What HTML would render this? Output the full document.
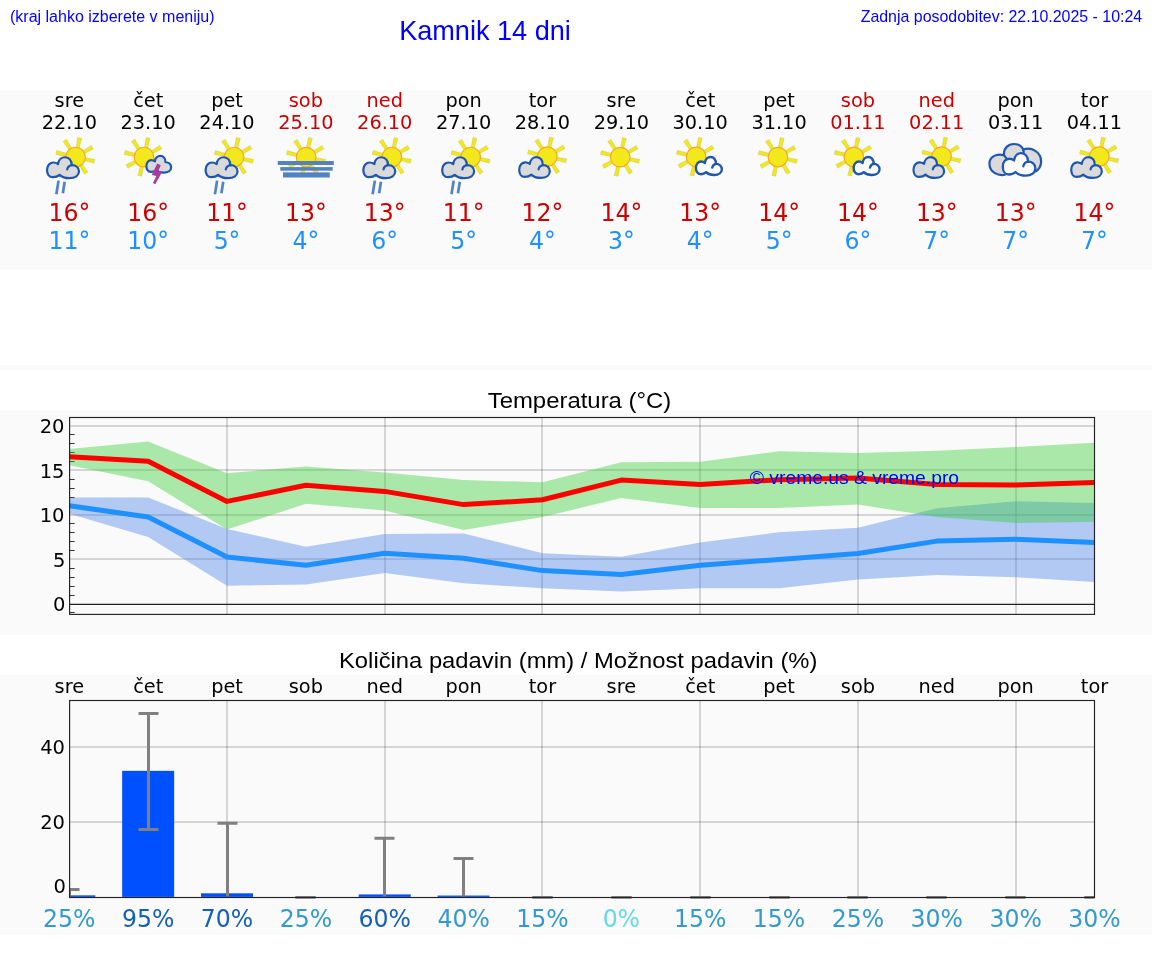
<!DOCTYPE html>
<html lang="sl"><head><meta charset="utf-8"><title>Kamnik 14 dni</title>
<style>html,body{margin:0;padding:0;background:#fff}svg{display:block}.dj{font-family:"DejaVu Sans","Liberation Sans",sans-serif}.ar{font-family:"Liberation Sans",Arial,sans-serif}.m{text-anchor:middle}.e{text-anchor:end}</style></head><body>
<svg width="1152" height="975" viewBox="0 0 1152 975">
<rect x="0" y="90" width="1152" height="180" fill="#fafafa"/>
<rect x="0" y="365" width="1152" height="5" fill="#fafafa"/>
<rect x="0" y="410" width="1152" height="225" fill="#fafafa"/>
<rect x="0" y="675" width="1152" height="260" fill="#fafafa"/>
<g class="ar" fill="#0000ff">
<text x="10" y="22" font-size="16">(kraj lahko izberete v meniju)</text>
<text x="485" y="39.6" font-size="27.1" class="m">Kamnik 14 dni</text>
<text x="1142.2" y="22" font-size="15.93" class="e">Zadnja posodobitev: 22.10.2025 - 10:24</text>
</g>
<defs>
<g id="sun"><g fill="#f2e81c" stroke="#8c8a40" stroke-opacity="0.35" stroke-width="0.5"><polygon points="8,-1.5 19.4,-2.05 19.4,2.05 8,1.5" transform="rotate(12.6)"/><polygon points="8,-1.5 19.3,-2.05 19.3,2.05 8,1.5" transform="rotate(56.6)"/><polygon points="8,-1.5 19.2,-2.05 19.2,2.05 8,1.5" transform="rotate(102.4)"/><polygon points="8,-1.5 19.5,-2.05 19.5,2.05 8,1.5" transform="rotate(150.8)"/><polygon points="8,-1.5 19.8,-2.05 19.8,2.05 8,1.5" transform="rotate(193.3)"/><polygon points="8,-1.5 19.8,-2.05 19.8,2.05 8,1.5" transform="rotate(237)"/><polygon points="8,-1.5 19.5,-2.05 19.5,2.05 8,1.5" transform="rotate(282.4)"/><polygon points="8,-1.5 19.5,-2.05 19.5,2.05 8,1.5" transform="rotate(329.5)"/></g><circle r="9.8" fill="#f2e81c" stroke="#f6aa22" stroke-width="1.2"/></g>
<path id="cl" d="M6.5 20.8 C3 20.8 1 17.5 1 13.5 C1 9 4 6.2 7 6.2 C8.8 6.2 10.3 6.8 11.6 7.8 C12 3.5 15 1 18.3 1 C22 1 24.8 4 24.6 8.9 C28.5 8.6 31.6 11.5 31.6 15 C31.6 19 28 21.8 22.5 21.8 C18.5 21.8 15 20.5 13 18.5 C11.5 20 9 20.8 6.5 20.8 Z"/>
<path id="clh" d="M20.3 13.2 C20.8 10.6 23 9 25.3 8.9" fill="none"/>
</defs>
<g class="dj m" font-size="20"><text transform="translate(69.30 107) scale(0.966 1)" fill="#000">sre</text><text transform="translate(69.30 129.3) scale(0.966 1)" fill="#000">22.10</text></g>
<use href="#sun" x="75.55" y="157.05"/><g transform="translate(45.95 156.20) scale(1.0460122699386503 1.0087719298245614)" stroke="#1f57b0" stroke-width="2.14" stroke-linejoin="round" stroke-linecap="round"><use href="#cl" fill="#dadada"/><use href="#clh"/></g><g stroke="#3f74c2" stroke-opacity="0.9" stroke-width="2.7"><line x1="58.55" y1="180.6" x2="56.35" y2="194.2"/><line x1="64.65" y1="181.7" x2="62.85" y2="193.2"/></g>
<g class="dj m" font-size="25"><text transform="translate(69.30 220.8) scale(0.943 1)" fill="#cc0000">16°</text><text transform="translate(69.30 249) scale(0.943 1)" fill="#1e90ff">11°</text></g>
<g class="dj m" font-size="20"><text transform="translate(148.16 107) scale(0.966 1)" fill="#000">čet</text><text transform="translate(148.16 129.3) scale(0.966 1)" fill="#000">23.10</text></g>
<use href="#sun" x="143.96" y="157.05"/><g transform="translate(145.56 155.10) scale(0.8098159509202453 0.8026315789473685)" stroke="#1f57b0" stroke-width="2.73" stroke-linejoin="round" stroke-linecap="round"><use href="#cl" fill="#dadada"/></g><polygon fill="#a93a9e" points="157.21,163.6 160.81,165.2 158.26,171.1 162.36,171.5 155.21,184.2 152.91,183 156.36,175.9 151.86,174.9"/>
<g class="dj m" font-size="25"><text transform="translate(148.16 220.8) scale(0.943 1)" fill="#cc0000">16°</text><text transform="translate(148.16 249) scale(0.943 1)" fill="#1e90ff">10°</text></g>
<g class="dj m" font-size="20"><text transform="translate(227.02 107) scale(0.966 1)" fill="#000">pet</text><text transform="translate(227.02 129.3) scale(0.966 1)" fill="#000">24.10</text></g>
<use href="#sun" x="234.12" y="157.05"/><g transform="translate(204.52 156.20) scale(1.0460122699386503 1.0087719298245614)" stroke="#1f57b0" stroke-width="2.14" stroke-linejoin="round" stroke-linecap="round"><use href="#cl" fill="#dadada"/><use href="#clh"/></g><g stroke="#3f74c2" stroke-opacity="0.9" stroke-width="2.7"><line x1="217.12" y1="180.6" x2="214.92" y2="194.2"/><line x1="223.22" y1="181.7" x2="221.42" y2="193.2"/></g>
<g class="dj m" font-size="25"><text transform="translate(227.02 220.8) scale(0.943 1)" fill="#cc0000">11°</text><text transform="translate(227.02 249) scale(0.943 1)" fill="#1e90ff">5°</text></g>
<g class="dj m" font-size="20"><text transform="translate(305.88 107) scale(0.966 1)" fill="#cc0000">sob</text><text transform="translate(305.88 129.3) scale(0.966 1)" fill="#cc0000">25.10</text></g>
<use href="#sun" x="306.13" y="157.1"/><g fill="#5382c3"><rect x="277.78" y="161" width="56" height="4"/><rect x="280.28" y="167.1" width="52.4" height="3.6"/><rect x="282.98" y="172.35" width="46.8" height="5.15"/></g>
<g class="dj m" font-size="25"><text transform="translate(305.88 220.8) scale(0.943 1)" fill="#cc0000">13°</text><text transform="translate(305.88 249) scale(0.943 1)" fill="#1e90ff">4°</text></g>
<g class="dj m" font-size="20"><text transform="translate(384.74 107) scale(0.966 1)" fill="#cc0000">ned</text><text transform="translate(384.74 129.3) scale(0.966 1)" fill="#cc0000">26.10</text></g>
<use href="#sun" x="391.84" y="157.05"/><g transform="translate(362.24 156.20) scale(1.0460122699386503 1.0087719298245614)" stroke="#1f57b0" stroke-width="2.14" stroke-linejoin="round" stroke-linecap="round"><use href="#cl" fill="#dadada"/><use href="#clh"/></g><g stroke="#3f74c2" stroke-opacity="0.9" stroke-width="2.7"><line x1="374.84" y1="180.6" x2="372.64" y2="194.2"/><line x1="380.94" y1="181.7" x2="379.14" y2="193.2"/></g>
<g class="dj m" font-size="25"><text transform="translate(384.74 220.8) scale(0.943 1)" fill="#cc0000">13°</text><text transform="translate(384.74 249) scale(0.943 1)" fill="#1e90ff">6°</text></g>
<g class="dj m" font-size="20"><text transform="translate(463.60 107) scale(0.966 1)" fill="#000">pon</text><text transform="translate(463.60 129.3) scale(0.966 1)" fill="#000">27.10</text></g>
<use href="#sun" x="470.70" y="157.05"/><g transform="translate(441.10 156.20) scale(1.0460122699386503 1.0087719298245614)" stroke="#1f57b0" stroke-width="2.14" stroke-linejoin="round" stroke-linecap="round"><use href="#cl" fill="#dadada"/><use href="#clh"/></g><g stroke="#3f74c2" stroke-opacity="0.9" stroke-width="2.7"><line x1="453.70" y1="180.6" x2="451.50" y2="194.2"/><line x1="459.80" y1="181.7" x2="458.00" y2="193.2"/></g>
<g class="dj m" font-size="25"><text transform="translate(463.60 220.8) scale(0.943 1)" fill="#cc0000">11°</text><text transform="translate(463.60 249) scale(0.943 1)" fill="#1e90ff">5°</text></g>
<g class="dj m" font-size="20"><text transform="translate(542.46 107) scale(0.966 1)" fill="#000">tor</text><text transform="translate(542.46 129.3) scale(0.966 1)" fill="#000">28.10</text></g>
<use href="#sun" x="547.26" y="156.6"/><g transform="translate(518.21 156.15) scale(1 1)" stroke="#1f57b0" stroke-width="2.20" stroke-linejoin="round" stroke-linecap="round"><use href="#cl" fill="#dadada"/><use href="#clh"/></g>
<g class="dj m" font-size="25"><text transform="translate(542.46 220.8) scale(0.943 1)" fill="#cc0000">12°</text><text transform="translate(542.46 249) scale(0.943 1)" fill="#1e90ff">4°</text></g>
<g class="dj m" font-size="20"><text transform="translate(621.32 107) scale(0.966 1)" fill="#000">sre</text><text transform="translate(621.32 129.3) scale(0.966 1)" fill="#000">29.10</text></g>
<use href="#sun" x="620.22" y="157.1"/>
<g class="dj m" font-size="25"><text transform="translate(621.32 220.8) scale(0.943 1)" fill="#cc0000">14°</text><text transform="translate(621.32 249) scale(0.943 1)" fill="#1e90ff">3°</text></g>
<g class="dj m" font-size="20"><text transform="translate(700.18 107) scale(0.966 1)" fill="#000">čet</text><text transform="translate(700.18 129.3) scale(0.966 1)" fill="#000">30.10</text></g>
<use href="#sun" x="696.13" y="156.9"/><g transform="translate(695.08 156.20) scale(0.8466257668711656 0.8640350877192982)" stroke="#1f57b0" stroke-width="2.81" stroke-linejoin="round" stroke-linecap="round"><use href="#cl" fill="#fcfcfc"/><use href="#clh"/></g>
<g class="dj m" font-size="25"><text transform="translate(700.18 220.8) scale(0.943 1)" fill="#cc0000">13°</text><text transform="translate(700.18 249) scale(0.943 1)" fill="#1e90ff">4°</text></g>
<g class="dj m" font-size="20"><text transform="translate(779.04 107) scale(0.966 1)" fill="#000">pet</text><text transform="translate(779.04 129.3) scale(0.966 1)" fill="#000">31.10</text></g>
<use href="#sun" x="777.94" y="157.1"/>
<g class="dj m" font-size="25"><text transform="translate(779.04 220.8) scale(0.943 1)" fill="#cc0000">14°</text><text transform="translate(779.04 249) scale(0.943 1)" fill="#1e90ff">5°</text></g>
<g class="dj m" font-size="20"><text transform="translate(857.90 107) scale(0.966 1)" fill="#cc0000">sob</text><text transform="translate(857.90 129.3) scale(0.966 1)" fill="#cc0000">01.11</text></g>
<use href="#sun" x="853.85" y="156.9"/><g transform="translate(852.80 156.20) scale(0.8466257668711656 0.8640350877192982)" stroke="#1f57b0" stroke-width="2.81" stroke-linejoin="round" stroke-linecap="round"><use href="#cl" fill="#fcfcfc"/><use href="#clh"/></g>
<g class="dj m" font-size="25"><text transform="translate(857.90 220.8) scale(0.943 1)" fill="#cc0000">14°</text><text transform="translate(857.90 249) scale(0.943 1)" fill="#1e90ff">6°</text></g>
<g class="dj m" font-size="20"><text transform="translate(936.76 107) scale(0.966 1)" fill="#cc0000">ned</text><text transform="translate(936.76 129.3) scale(0.966 1)" fill="#cc0000">02.11</text></g>
<use href="#sun" x="941.56" y="156.6"/><g transform="translate(912.51 156.15) scale(1 1)" stroke="#1f57b0" stroke-width="2.20" stroke-linejoin="round" stroke-linecap="round"><use href="#cl" fill="#dadada"/><use href="#clh"/></g>
<g class="dj m" font-size="25"><text transform="translate(936.76 220.8) scale(0.943 1)" fill="#cc0000">13°</text><text transform="translate(936.76 249) scale(0.943 1)" fill="#1e90ff">7°</text></g>
<g class="dj m" font-size="20"><text transform="translate(1015.62 107) scale(0.966 1)" fill="#000">pon</text><text transform="translate(1015.62 129.3) scale(0.966 1)" fill="#000">03.11</text></g>
<path transform="translate(1015.62 0)" fill="#dadada" stroke="#1f57b0" stroke-width="2.2" stroke-linejoin="round" d="M-10 174.5 C-17 176.5 -26.2 172.5 -26.2 163.5 C-26.2 157 -19.5 153.2 -11.6 155.2 C-12.3 148 -7 144 -1.8 144 C3 144 6.3 146.5 7.6 149.6 C16 146.5 25.5 152 25.5 161.5 C25.5 166 23.5 169.5 19.5 171.8"/><path transform="translate(1015.62 0)" fill="none" stroke="#1f57b0" stroke-width="2.2" stroke-linecap="round" d="M-11.6 155.2 C-10.8 156.5 -10 157.5 -9 158.5 M7.6 149.6 C7.9 150.5 8 151.5 8 152.5"/><g transform="translate(1001.72 152.00) scale(1.0644171779141105 1.0833333333333333)" stroke="#1f57b0" stroke-width="2.14" stroke-linejoin="round" stroke-linecap="round"><use href="#cl" fill="#fcfcfc"/><use href="#clh"/></g>
<g class="dj m" font-size="25"><text transform="translate(1015.62 220.8) scale(0.943 1)" fill="#cc0000">13°</text><text transform="translate(1015.62 249) scale(0.943 1)" fill="#1e90ff">7°</text></g>
<g class="dj m" font-size="20"><text transform="translate(1094.48 107) scale(0.966 1)" fill="#000">tor</text><text transform="translate(1094.48 129.3) scale(0.966 1)" fill="#000">04.11</text></g>
<use href="#sun" x="1099.28" y="156.6"/><g transform="translate(1070.23 156.15) scale(1 1)" stroke="#1f57b0" stroke-width="2.20" stroke-linejoin="round" stroke-linecap="round"><use href="#cl" fill="#dadada"/><use href="#clh"/></g>
<g class="dj m" font-size="25"><text transform="translate(1094.48 220.8) scale(0.943 1)" fill="#cc0000">14°</text><text transform="translate(1094.48 249) scale(0.943 1)" fill="#1e90ff">7°</text></g>
<text class="ar m" transform="translate(579.5 407.5) scale(1.068 1)" font-size="22.4" fill="#000">Temperatura (°C)</text>
<clipPath id="c1"><rect x="69.6" y="417.5" width="1024.9" height="196.89999999999998"/></clipPath>
<g stroke="#000" stroke-opacity="0.145" stroke-width="2"><line x1="69.6" x2="1094.5" y1="426" y2="426"/><line x1="69.6" x2="1094.5" y1="470" y2="470"/><line x1="69.6" x2="1094.5" y1="515" y2="515"/><line x1="69.6" x2="1094.5" y1="559" y2="559"/><line x1="227" x2="227" y1="417.5" y2="614.4"/><line x1="385" x2="385" y1="417.5" y2="614.4"/><line x1="542" x2="542" y1="417.5" y2="614.4"/><line x1="700" x2="700" y1="417.5" y2="614.4"/><line x1="858" x2="858" y1="417.5" y2="614.4"/><line x1="1016" x2="1016" y1="417.5" y2="614.4"/></g>
<g stroke="#333" stroke-width="1"><line x1="69.6" x2="74.6" y1="612.5" y2="612.5"/><line x1="69.6" x2="74.6" y1="595.5" y2="595.5"/><line x1="69.6" x2="74.6" y1="586.5" y2="586.5"/><line x1="69.6" x2="74.6" y1="577.5" y2="577.5"/><line x1="69.6" x2="74.6" y1="568.5" y2="568.5"/><line x1="69.6" x2="74.6" y1="550.5" y2="550.5"/><line x1="69.6" x2="74.6" y1="541.5" y2="541.5"/><line x1="69.6" x2="74.6" y1="532.5" y2="532.5"/><line x1="69.6" x2="74.6" y1="523.5" y2="523.5"/><line x1="69.6" x2="74.6" y1="505.5" y2="505.5"/><line x1="69.6" x2="74.6" y1="497.5" y2="497.5"/><line x1="69.6" x2="74.6" y1="488.5" y2="488.5"/><line x1="69.6" x2="74.6" y1="479.5" y2="479.5"/><line x1="69.6" x2="74.6" y1="461.5" y2="461.5"/><line x1="69.6" x2="74.6" y1="452.5" y2="452.5"/><line x1="69.6" x2="74.6" y1="443.5" y2="443.5"/><line x1="69.6" x2="74.6" y1="434.5" y2="434.5"/></g>
<g clip-path="url(#c1)">
<polygon points="69.3,497.5 148.2,497.5 227.0,528.9 305.9,546.7 384.7,533.9 463.6,533.5 542.5,553.2 621.3,556.7 700.2,542.4 779.0,532.2 857.9,527.8 936.8,508.3 1015.6,501.3 1094.5,502.9 1094.5,582.1 1015.6,577.2 936.8,574.9 857.9,579.5 779.0,588.2 700.2,588.2 621.3,591.4 542.5,588.2 463.6,583.2 384.7,573.0 305.9,584.5 227.0,585.8 148.2,537.0 69.3,513.7" fill="#4480e8" fill-opacity="0.4"/>
<polygon points="69.3,449.1 148.2,441.5 227.0,473.2 305.9,466.4 384.7,472.5 463.6,480.1 542.5,482.3 621.3,462.3 700.2,461.7 779.0,451.2 857.9,453.0 936.8,450.8 1015.6,447.1 1094.5,442.8 1094.5,521.8 1015.6,522.9 936.8,517.0 857.9,504.4 779.0,507.9 700.2,507.9 621.3,498.1 542.5,517.0 463.6,530.0 384.7,510.5 305.9,503.8 227.0,529.6 148.2,481.2 69.3,465.3" fill="#32cd32" fill-opacity="0.4"/>
<polyline points="69.3,456.7 148.2,461.2 227.0,501.4 305.9,485.3 384.7,491.4 463.6,504.6 542.5,499.8 621.3,480.1 700.2,484.4 779.0,479.7 857.9,477.9 936.8,484.4 1015.6,485.1 1094.5,482.5" fill="none" stroke="#ff0000" stroke-width="5" stroke-linejoin="round"/>
<polyline points="69.3,505.7 148.2,517.0 227.0,557.1 305.9,565.2 384.7,553.2 463.6,558.2 542.5,570.6 621.3,574.5 700.2,565.2 779.0,559.5 857.9,553.5 936.8,541.1 1015.6,539.2 1094.5,542.6" fill="none" stroke="#1e90ff" stroke-width="5" stroke-linejoin="round"/>
</g>
<line x1="69.6" x2="1094.5" y1="604.4" y2="604.4" stroke="#222" stroke-width="1.3"/>
<rect x="69.6" y="417.5" width="1024.9" height="196.89999999999998" fill="none" stroke="#222" stroke-width="1.15"/>
<g class="dj e" font-size="19.5" fill="#000"><text x="65.5" y="611.3">0</text><text x="65.5" y="566.8">5</text><text x="64.5" y="522">10</text><text x="64.5" y="478.1">15</text><text x="64.5" y="433">20</text></g>
<text class="ar" transform="translate(749.8 483.8) scale(1.058 1)" font-size="18.25" fill="#0000ff">© vreme.us &amp; vreme.pro</text>
<text class="ar m" transform="translate(578.2 667.5) scale(1.062 1)" font-size="22.4" fill="#000">Količina padavin (mm) / Možnost padavin (%)</text>
<g class="dj m" font-size="20" fill="#000"><text transform="translate(69.30 692.6) scale(0.966 1)" fill="#000">sre</text><text transform="translate(148.16 692.6) scale(0.966 1)" fill="#000">čet</text><text transform="translate(227.02 692.6) scale(0.966 1)" fill="#000">pet</text><text transform="translate(305.88 692.6) scale(0.966 1)" fill="#000">sob</text><text transform="translate(384.74 692.6) scale(0.966 1)" fill="#000">ned</text><text transform="translate(463.60 692.6) scale(0.966 1)" fill="#000">pon</text><text transform="translate(542.46 692.6) scale(0.966 1)" fill="#000">tor</text><text transform="translate(621.32 692.6) scale(0.966 1)" fill="#000">sre</text><text transform="translate(700.18 692.6) scale(0.966 1)" fill="#000">čet</text><text transform="translate(779.04 692.6) scale(0.966 1)" fill="#000">pet</text><text transform="translate(857.90 692.6) scale(0.966 1)" fill="#000">sob</text><text transform="translate(936.76 692.6) scale(0.966 1)" fill="#000">ned</text><text transform="translate(1015.62 692.6) scale(0.966 1)" fill="#000">pon</text><text transform="translate(1094.48 692.6) scale(0.966 1)" fill="#000">tor</text></g>
<g stroke="#000" stroke-opacity="0.145" stroke-width="2"><line x1="69.6" x2="1094.5" y1="747" y2="747"/><line x1="69.6" x2="1094.5" y1="822" y2="822"/><line x1="227" x2="227" y1="700.5" y2="897.5"/><line x1="385" x2="385" y1="700.5" y2="897.5"/><line x1="542" x2="542" y1="700.5" y2="897.5"/><line x1="700" x2="700" y1="700.5" y2="897.5"/><line x1="858" x2="858" y1="700.5" y2="897.5"/><line x1="1016" x2="1016" y1="700.5" y2="897.5"/></g>
<clipPath id="c2"><rect x="69.6" y="698.5" width="1024.9" height="200.0"/></clipPath>
<g clip-path="url(#c2)">
<rect x="43.30" y="895.36" width="52" height="1.54" fill="#0050ff"/>
<rect x="122.16" y="770.84" width="52" height="126.06" fill="#0050ff"/>
<rect x="201.02" y="893.30" width="52" height="3.60" fill="#0050ff"/>
<rect x="358.74" y="894.43" width="52" height="2.47" fill="#0050ff"/>
<rect x="437.60" y="895.55" width="52" height="1.35" fill="#0050ff"/>
<g stroke="#808080" stroke-width="3"><line x1="69.50" x2="69.50" y1="896.60" y2="889.48"/><line x1="59.50" x2="79.50" y1="889.48" y2="889.48"/></g>
<g stroke="#808080" stroke-width="3"><line x1="148.50" x2="148.50" y1="829.56" y2="713.47"/><line x1="138.50" x2="158.50" y1="713.47" y2="713.47"/><line x1="138.50" x2="158.50" y1="829.56" y2="829.56"/></g>
<g stroke="#808080" stroke-width="3"><line x1="227.50" x2="227.50" y1="896.60" y2="823.20"/><line x1="217.50" x2="237.50" y1="823.20" y2="823.20"/></g>
<g stroke="#808080" stroke-width="3"><line x1="305.50" x2="305.50" y1="897.40" y2="897.40"/><line x1="295.50" x2="315.50" y1="897.40" y2="897.40"/><line x1="295.50" x2="315.50" y1="897.40" y2="897.40"/></g>
<g stroke="#808080" stroke-width="3"><line x1="384.50" x2="384.50" y1="896.60" y2="838.18"/><line x1="374.50" x2="394.50" y1="838.18" y2="838.18"/></g>
<g stroke="#808080" stroke-width="3"><line x1="463.50" x2="463.50" y1="896.60" y2="858.40"/><line x1="453.50" x2="473.50" y1="858.40" y2="858.40"/></g>
<g stroke="#808080" stroke-width="3"><line x1="542.50" x2="542.50" y1="897.40" y2="897.40"/><line x1="532.50" x2="552.50" y1="897.40" y2="897.40"/><line x1="532.50" x2="552.50" y1="897.40" y2="897.40"/></g>
<g stroke="#808080" stroke-width="3"><line x1="621.50" x2="621.50" y1="897.40" y2="897.40"/><line x1="611.50" x2="631.50" y1="897.40" y2="897.40"/><line x1="611.50" x2="631.50" y1="897.40" y2="897.40"/></g>
<g stroke="#808080" stroke-width="3"><line x1="700.50" x2="700.50" y1="897.40" y2="897.40"/><line x1="690.50" x2="710.50" y1="897.40" y2="897.40"/><line x1="690.50" x2="710.50" y1="897.40" y2="897.40"/></g>
<g stroke="#808080" stroke-width="3"><line x1="779.50" x2="779.50" y1="897.40" y2="897.40"/><line x1="769.50" x2="789.50" y1="897.40" y2="897.40"/><line x1="769.50" x2="789.50" y1="897.40" y2="897.40"/></g>
<g stroke="#808080" stroke-width="3"><line x1="857.50" x2="857.50" y1="897.40" y2="897.40"/><line x1="847.50" x2="867.50" y1="897.40" y2="897.40"/><line x1="847.50" x2="867.50" y1="897.40" y2="897.40"/></g>
<g stroke="#808080" stroke-width="3"><line x1="936.50" x2="936.50" y1="897.40" y2="897.40"/><line x1="926.50" x2="946.50" y1="897.40" y2="897.40"/><line x1="926.50" x2="946.50" y1="897.40" y2="897.40"/></g>
<g stroke="#808080" stroke-width="3"><line x1="1015.50" x2="1015.50" y1="897.40" y2="897.40"/><line x1="1005.50" x2="1025.50" y1="897.40" y2="897.40"/><line x1="1005.50" x2="1025.50" y1="897.40" y2="897.40"/></g>
<g stroke="#808080" stroke-width="3"><line x1="1094.50" x2="1094.50" y1="897.40" y2="897.40"/><line x1="1084.50" x2="1104.50" y1="897.40" y2="897.40"/><line x1="1084.50" x2="1104.50" y1="897.40" y2="897.40"/></g>
</g>
<rect x="69.6" y="700.5" width="1024.9" height="197.0" fill="none" stroke="#222" stroke-width="1.15"/>
<g class="dj e" font-size="19.5" fill="#000"><text x="65" y="754.2">40</text><text x="65" y="829.3">20</text><text x="65.8" y="892.8">0</text></g>
<g class="dj m" font-size="25"><text transform="translate(69.30 927.3) scale(0.943 1)" fill="#3399d0">25%</text><text transform="translate(148.16 927.3) scale(0.943 1)" fill="#1560b4">95%</text><text transform="translate(227.02 927.3) scale(0.943 1)" fill="#1560b4">70%</text><text transform="translate(305.88 927.3) scale(0.943 1)" fill="#3399d0">25%</text><text transform="translate(384.74 927.3) scale(0.943 1)" fill="#1560b4">60%</text><text transform="translate(463.60 927.3) scale(0.943 1)" fill="#3399d0">40%</text><text transform="translate(542.46 927.3) scale(0.943 1)" fill="#3399d0">15%</text><text transform="translate(621.32 927.3) scale(0.943 1)" fill="#66d9e8">0%</text><text transform="translate(700.18 927.3) scale(0.943 1)" fill="#3399d0">15%</text><text transform="translate(779.04 927.3) scale(0.943 1)" fill="#3399d0">15%</text><text transform="translate(857.90 927.3) scale(0.943 1)" fill="#3399d0">25%</text><text transform="translate(936.76 927.3) scale(0.943 1)" fill="#3399d0">30%</text><text transform="translate(1015.62 927.3) scale(0.943 1)" fill="#3399d0">30%</text><text transform="translate(1094.48 927.3) scale(0.943 1)" fill="#3399d0">30%</text></g>
</svg></body></html>
